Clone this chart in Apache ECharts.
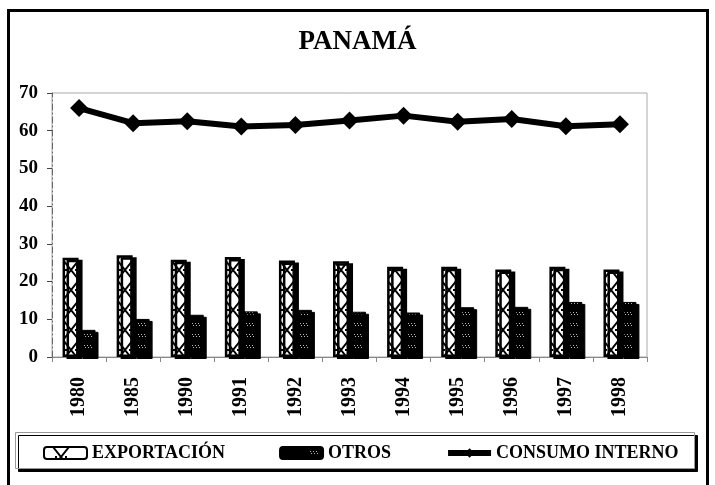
<!DOCTYPE html>
<html>
<head>
<meta charset="utf-8">
<script src="https://cdn.jsdelivr.net/npm/echarts@6/dist/echarts.min.js"></script>
<style>
  html, body { margin: 0; padding: 0; background: #fff; }
  #chart { width: 715px; height: 485px; }
</style>
</head>
<body>
<div id="chart"></div>
<script>
var years = ['1980', '1985', '1990', '1991', '1992', '1993', '1994', '1995', '1996', '1997', '1998'];
var exportacion = [26.3, 27.0, 25.8, 26.5, 25.6, 25.4, 23.9, 23.9, 23.2, 23.9, 23.2];
var otros = [7.2, 10.1, 11.2, 12.1, 12.5, 12.0, 11.8, 13.2, 13.3, 14.6, 14.6];
var consumoInterno = [66.0, 62.0, 62.5, 61.1, 61.5, 62.7, 64.0, 62.4, 63.1, 61.2, 61.7];
var yTicks = [0, 10, 20, 30, 40, 50, 60, 70];

var serif = 'Liberation Serif';

// tiles are one category (54px) wide so every bar gets the same part of the pattern
// cross hatch fill for EXPORTACION
function crossPattern() {
    var c = document.createElement('canvas');
    c.width = 54; c.height = 20;
    var ctx = c.getContext('2d');
    ctx.fillStyle = '#fff';
    ctx.fillRect(0, 0, 54, 20);
    ctx.strokeStyle = '#000';
    ctx.lineWidth = 2;
    ctx.beginPath();
    ctx.moveTo(9, 0); ctx.lineTo(25, 20);
    ctx.moveTo(25, 0); ctx.lineTo(9, 20);
    // same cross for the legend icon position
    ctx.moveTo(43, 0); ctx.lineTo(54, 14);
    ctx.moveTo(0, 14); ctx.lineTo(5, 20);
    ctx.stroke();
    ctx.fillStyle = '#000';
    ctx.fillRect(11, 9, 2, 2);
    ctx.fillRect(21, 9, 2, 2);
    return c;
}
// dark dotted fill for OTROS
function dotPattern() {
    var c = document.createElement('canvas');
    c.width = 54; c.height = 11;
    var ctx = c.getContext('2d');
    ctx.fillStyle = '#000';
    ctx.fillRect(0, 0, 54, 11);
    ctx.fillStyle = '#bbb';
    ctx.fillRect(30, 4, 1, 1);
    ctx.fillRect(33, 4, 1, 1);
    ctx.fillRect(36, 4, 1, 1);
    ctx.fillRect(31, 6, 1, 1);
    ctx.fillRect(34, 6, 1, 1);
    ctx.fillRect(37, 6, 1, 1);
    return c;
}

var myChart = echarts.init(document.getElementById('chart'));

var option = {
    backgroundColor: '#fff',
    animation: false,
    title: {
        text: 'PANAMÁ',
        left: 'center',
        top: 29,
        padding: 0,
        textStyle: { fontFamily: serif, fontWeight: 'bold', fontSize: 27, color: '#000' }
    },
    graphic: [
        {
            type: 'rect',
            z: 0,
            shape: { x: 8.5, y: 10.5, width: 699, height: 490 },
            style: { fill: null, stroke: '#000', lineWidth: 3 }
        },
        {
            type: 'rect',
            z: 0,
            shape: { x: 15.5, y: 432.5, width: 679, height: 36 },
            style: {
                fill: '#fff', stroke: '#999', lineWidth: 1,
                shadowColor: '#000', shadowOffsetX: 3, shadowOffsetY: 3, shadowBlur: 0
            }
        }
    ],
    legend: {
        left: 38,
        top: 439,
        itemGap: 54,
        itemWidth: 43,
        itemHeight: 12,
        textStyle: { fontFamily: serif, fontWeight: 'bold', fontSize: 18, color: '#000' },
        data: [
            'EXPORTACIÓN',
            'OTROS',
            { name: 'CONSUMO INTERNO', lineStyle: { width: 6, color: '#000' }, itemStyle: { color: '#000' } }
        ]
    },
    grid: {
        left: 52,
        right: 68,
        top: 93,
        bottom: 128,
        show: true,
        borderColor: '#aaa',
        borderWidth: 1
    },
    xAxis: {
        type: 'category',
        data: years,
        axisLine: { lineStyle: { color: '#888', width: 1 } },
        axisTick: { show: true, length: 5, lineStyle: { color: '#888' } },
        axisLabel: {
            rotate: 90,
            margin: 20,
            fontFamily: serif,
            fontWeight: 'bold',
            fontSize: 20,
            color: '#000'
        }
    },
    yAxis: {
        type: 'value',
        min: yTicks[0],
        max: yTicks[yTicks.length - 1],
        interval: 10,
        splitLine: { show: false },
        axisLine: { show: true, lineStyle: { color: '#666', type: [6, 3, 1, 3] } },
        axisTick: { show: true, length: 5, lineStyle: { color: '#444' } },
        axisLabel: {
            margin: 14,
            fontFamily: serif,
            fontWeight: 'bold',
            fontSize: 19,
            color: '#000'
        }
    },
    series: [
        {
            name: 'EXPORTACIÓN',
            type: 'bar',
            data: exportacion,
            barWidth: 16,
            barGap: '6%',
            itemStyle: {
                color: { image: crossPattern(), repeat: 'repeat' },
                borderColor: '#000',
                borderWidth: 2.5,
                shadowColor: '#000',
                shadowOffsetX: 4,
                shadowOffsetY: 2,
                shadowBlur: 0
            }
        },
        {
            name: 'OTROS',
            type: 'bar',
            data: otros,
            barWidth: 16,
            itemStyle: {
                color: { image: dotPattern(), repeat: 'repeat' },
                borderColor: '#000',
                borderWidth: 1,
                shadowColor: '#000',
                shadowOffsetX: 3,
                shadowOffsetY: 2,
                shadowBlur: 0
            }
        },
        {
            name: 'CONSUMO INTERNO',
            type: 'line',
            data: consumoInterno,
            symbol: 'diamond',
            symbolSize: 18,
            lineStyle: { color: '#000', width: 6 },
            itemStyle: { color: '#000' },
            z: 5
        }
    ]
};
myChart.setOption(option);
</script>
</body>
</html>
